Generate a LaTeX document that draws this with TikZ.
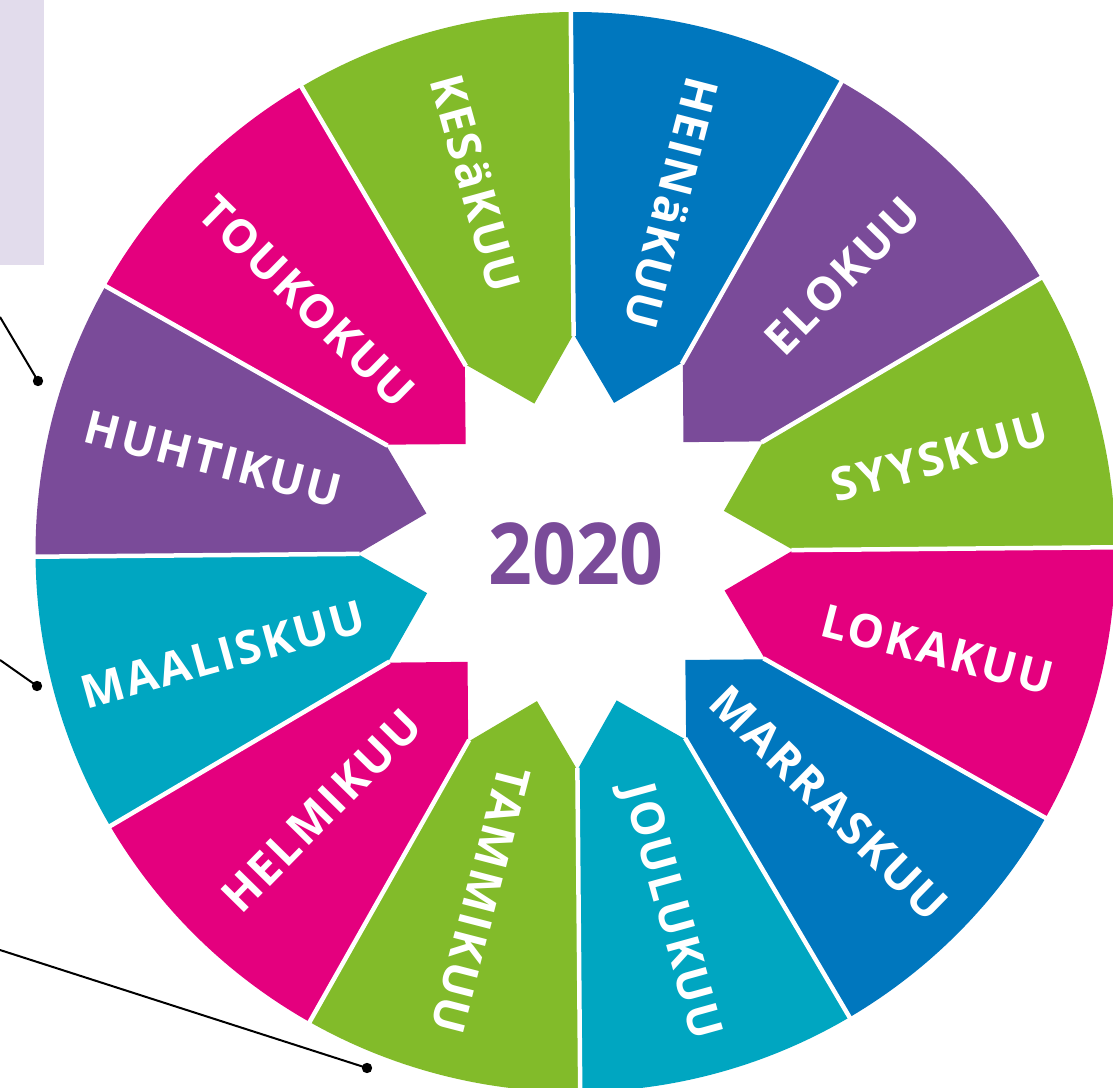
\documentclass[tikz,border=0pt]{standalone}
\usepackage{fontspec}
\newfontfamily\mfont{Open Sans}[LetterSpace=5]
\newfontfamily\yfont{Open Sans}
\definecolor{cgreen}{HTML}{82BB2A}
\definecolor{cblue}{HTML}{0077BE}
\definecolor{cpurple}{HTML}{7A4B99}
\definecolor{cmagenta}{HTML}{E4007E}
\definecolor{cteal}{HTML}{00A6C1}
\definecolor{clav}{HTML}{E2DCEC}
\tikzset{
  month/.style={text=white, font=\mfont\bfseries\fontsize{23}{27}\selectfont,
    text height=16.4pt, text depth=0pt, inner sep=0pt},
  year/.style={text=cpurple, font=\yfont\bfseries\fontsize{42.7}{48}\selectfont,
    text height=30.5pt, text depth=0pt, inner sep=0pt, xscale=0.9},
  gap/.style={draw=white, line width=2.25pt},
  leader/.style={draw=black, line width=1pt},
  dot/.style={fill=black}
}
\begin{document}
\begin{tikzpicture}[x=0.5pt,y=0.5pt]
\useasboundingbox (0,0) rectangle (1113,1087);
\fill[clav] (0,822) rectangle (44,1087);
\begin{scope}[shift={(575.5,535)}, rotate=0.5]
  \foreach \a/\col in {90/cgreen, 120/cmagenta, 150/cpurple, 180/cteal,
     210/cmagenta, 240/cgreen, 270/cteal, 300/cblue, 330/cmagenta,
     0/cgreen, 30/cpurple, 60/cblue}{
    \pgfmathsetmacro{\b}{\a+30}
    \pgfmathsetmacro{\m}{\a+15}
    \fill[\col] (\a:218) -- (\m:154) -- (\b:218) -- (\b:540)
       arc[start angle=\b, end angle=\a, radius=270pt] -- cycle;
  }
  \foreach \a in {0,30,...,330}{
    \coordinate (gi\a) at (\a:216);
    \coordinate (go\a) at (\a:560);
    \draw[gap] (gi\a) -- (go\a);
  }
\end{scope}
\begin{scope}[shift={(575.5,535)}]
  \foreach \n/\txt/\ang/\r/\rot in {
     1/KESäKUU/105.2/382/-75,
     2/TOUKOKUU/137/367/-45,
     3/HUHTIKUU/165.6/374/-15,
     4/MAALISKUU/196.2/367/15,
     5/HELMIKUU/225.5/363/45,
     6/TAMMIKUU/254.8/361/-105,
     7/JOULUKUU/285.3/372/-75,
     8/MARRASKUU/315.3/357/-45,
     9/LOKAKUU/344.9/375/-15,
     10/SYYSKUU/14.6/376/15,
     11/ELOKUU/46/384/45,
     12/HEINäKUU/74.6/362/-105}{
    \node[month, rotate=\rot+0.5] (t\n) at (\ang:\r) {\txt};
  }
\end{scope}
\node[year] (yr) at (576,532.5) {2020};
\coordinate (l1a) at (0,770);
\coordinate (l1b) at (38,706);
\coordinate (l2a) at (0,427);
\coordinate (l2b) at (37,401);
\coordinate (l3a) at (0,137);
\coordinate (l3b) at (367,19);
\draw[leader] (l1a) -- (l1b);
\draw[leader] (l2a) -- (l2b);
\draw[leader] (l3a) -- (l3b);
\fill[dot] (l1b) circle[radius=2.6pt];
\fill[dot] (l2b) circle[radius=2.6pt];
\fill[dot] (l3b) circle[radius=2.6pt];
\end{tikzpicture}
\end{document}
